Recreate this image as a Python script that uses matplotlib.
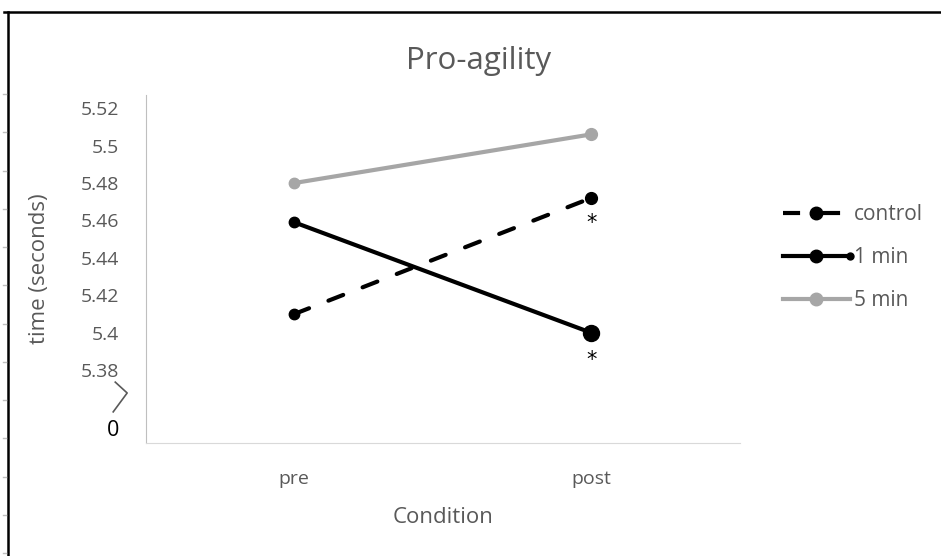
import matplotlib
matplotlib.use('Agg')
import matplotlib.pyplot as plt
from matplotlib.lines import Line2D
from matplotlib.legend_handler import HandlerLine2D

# Chart data
conditions = ['pre', 'post']
control = [5.410, 5.472]
one_min = [5.459, 5.400]
five_min = [5.480, 5.506]
y_ticks = [5.38, 5.40, 5.42, 5.44, 5.46, 5.48, 5.50, 5.52]
y_tick_labels = ['5.38', '5.4', '5.42', '5.44', '5.46', '5.48', '5.5', '5.52']
zero_pos = 5.349
series_names = ['control', '1 min', '5 min']

GRAY_TEXT = '#595959'
LIGHT_GRAY = '#A6A6A6'

plt.rcParams['font.family'] = ['Open Sans', 'DejaVu Sans']


class HandlerEndDot(HandlerLine2D):
    """Line handle with an extra small dot at its right end."""
    def create_artists(self, legend, orig_handle, xdescent, ydescent,
                       width, height, fontsize, trans):
        artists = super().create_artists(legend, orig_handle, xdescent, ydescent,
                                         width, height, fontsize, trans)
        y = height / 2 - ydescent
        dot = Line2D([width - xdescent], [y], marker='o', ms=5, color='black',
                     ls='none', transform=trans)
        return list(artists) + [dot]


fig = plt.figure(figsize=(9.41, 5.56), dpi=100)
ax = fig.add_axes([0.155, 0.203, 0.631, 0.626])
x = list(range(len(conditions)))

ax.plot(x, five_min, color=LIGHT_GRAY, lw=3, solid_capstyle='round')
ax.plot(x, one_min, color='black', lw=3, solid_capstyle='round')
ax.plot(x, control, color='black', lw=3, ls=(0, (3.8, 5)), dash_capstyle='round')

# markers: pre points small, post points larger
ax.plot(x[0], five_min[0], 'o', color=LIGHT_GRAY, ms=7.5)
ax.plot(x[1], five_min[1], 'o', color=LIGHT_GRAY, ms=8.5)
ax.plot(x[0], one_min[0], 'o', color='black', ms=7.5)
ax.plot(x[1], one_min[1], 'o', color='black', ms=11.5)
ax.plot(x[0], control[0], 'o', color='black', ms=7.5)
ax.plot(x[1], control[1], 'o', color='black', ms=8.5)

# significance marks
ax.annotate('*', (x[1], control[1]), xytext=(0, -25), textcoords='offset pixels',
            ha='center', va='center', fontsize=15, color='black', family='DejaVu Sans')
ax.annotate('*', (x[1], one_min[1]), xytext=(0, -27), textcoords='offset pixels',
            ha='center', va='center', fontsize=15, color='black', family='DejaVu Sans')

ax.set_xlim(-0.5, 1.5)
ax.set_ylim(5.341, 5.527)
ax.set_xticks(x)
ax.set_xticklabels(conditions, color=GRAY_TEXT, fontsize=14)
ax.set_yticks(y_ticks + [zero_pos])
ax.set_yticklabels(y_tick_labels + ['0'], color=GRAY_TEXT, fontsize=14)
zero_label = ax.get_yticklabels()[-1]
zero_label.set_color('black')
zero_label.set_fontsize(15.5)
ax.tick_params(length=0)
ax.tick_params(axis='y', pad=19)
ax.tick_params(axis='x', pad=19)

for side in ['top', 'right']:
    ax.spines[side].set_visible(False)
ax.spines['left'].set_color('#BFBFBF')
ax.spines['bottom'].set_color('#D9D9D9')

# axis break mark
ax.plot([-0.603, -0.563, -0.61], [5.3736, 5.3678, 5.3577], color=GRAY_TEXT, lw=1.2,
        clip_on=False)

ax.set_ylabel('time (seconds)', color=GRAY_TEXT, fontsize=16, labelpad=22)
ax.set_xlabel('Condition', color=GRAY_TEXT, fontsize=16, labelpad=14)
fig.text(0.509, 0.8895, 'Pro-agility', ha='center', va='center', fontsize=22.5,
         color=GRAY_TEXT)

handles = [
    Line2D([], [], color='black', lw=3, ls=(0, (4.1, 5.5)), dash_capstyle='butt',
           marker='o', ms=9),
    Line2D([], [], color='black', lw=3, marker='o', ms=9),
    Line2D([], [], color=LIGHT_GRAY, lw=3, marker='o', ms=9),
]
fig.legend(handles, series_names, loc='upper left', bbox_to_anchor=(0.832, 0.633),
           frameon=False, fontsize=15, labelcolor=GRAY_TEXT, handlelength=3.2,
           labelspacing=1.05, handletextpad=0.2, borderpad=0, borderaxespad=0,
           handler_map={handles[1]: HandlerEndDot()})

# outer frame with ruler ticks
fig.add_artist(Line2D([4 / 941, 1], [1 - 12 / 556] * 2, color='black', lw=1.8,
                      transform=fig.transFigure))
fig.add_artist(Line2D([7.5 / 941] * 2, [0, 1 - 12 / 556], color='black', lw=1.8,
                      transform=fig.transFigure))
for k in range(13):
    yy = 1 - (94 + 38.25 * k) / 556
    fig.add_artist(Line2D([3 / 941, 6 / 941], [yy, yy], color='#BFBFBF', lw=1,
                          transform=fig.transFigure))

fig.savefig('out.png', dpi=100, facecolor='white')
